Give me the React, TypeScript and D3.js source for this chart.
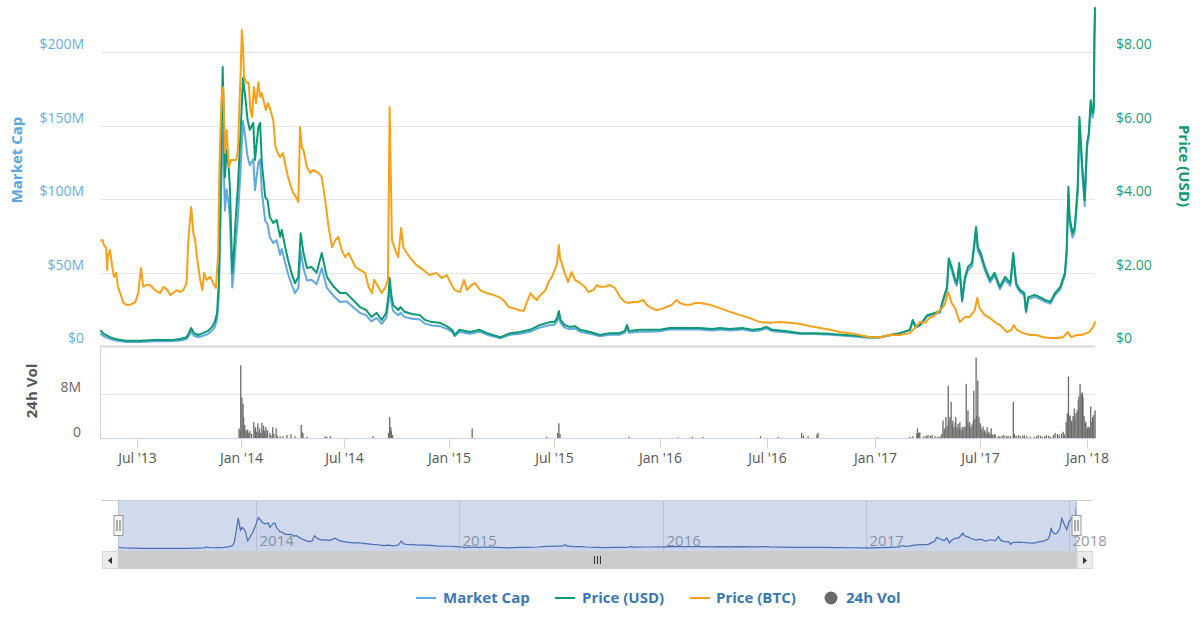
import React from "react";
import * as d3 from "d3";

type Pt = [string, number];

// Price in USD
const priceUsd: Pt[] = [
  ["2013-04-28",0.41],["2013-05-03",0.33],["2013-05-14",0.24],["2013-05-23",0.19],["2013-06-10",0.14],["2013-07-06",0.14],["2013-08-02",0.16],["2013-08-29",0.16],["2013-09-16",0.19],["2013-09-27",0.24],["2013-10-01",0.35],["2013-10-05",0.49],["2013-10-10",0.35],["2013-10-17",0.30],["2013-10-26",0.35],["2013-11-04",0.41],["2013-11-11",0.52],["2013-11-16",0.65],["2013-11-20",0.90],["2013-11-23",1.66],["2013-11-26",3.97],["2013-11-30",7.59],["2013-12-02",6.15],["2013-12-04",4.60],["2013-12-07",5.33],["2013-12-11",4.79],["2013-12-13",4.24],["2013-12-17",1.99],["2013-12-20",2.61],["2013-12-23",3.43],["2013-12-27",4.33],
  ["2014-01-01",5.88],["2014-01-05",7.29],["2014-01-09",6.78],["2014-01-13",6.15],["2014-01-17",5.88],["2014-01-23",6.07],["2014-01-26",5.06],["2014-02-01",5.96],["2014-02-04",6.07],["2014-02-07",4.98],["2014-02-13",4.05],["2014-02-17",3.97],["2014-02-21",3.51],["2014-02-27",3.35],["2014-03-05",3.43],["2014-03-11",2.97],["2014-03-14",3.16],["2014-03-20",2.69],["2014-03-25",2.34],["2014-03-31",1.99],["2014-04-06",1.71],["2014-04-12",1.88],["2014-04-16",3.07],["2014-04-21",2.53],["2014-04-27",2.12],["2014-05-05",2.15],["2014-05-14",1.99],["2014-05-23",2.53],["2014-06-01",1.88],["2014-06-13",1.61],["2014-06-24",1.44],["2014-07-05",1.44],["2014-07-17",1.25],["2014-07-29",1.06],["2014-08-09",0.98],["2014-08-18",0.79],["2014-08-27",0.90],["2014-09-05",0.71],["2014-09-13",0.90],["2014-09-17",1.39],["2014-09-19",1.85],["2014-09-22",1.39],["2014-09-25",1.12],["2014-10-04",0.98],["2014-10-08",1.06],["2014-10-15",0.93],["2014-10-28",0.87],["2014-11-11",0.84],["2014-11-20",0.71],["2014-12-02",0.65],["2014-12-16",0.63],["2014-12-28",0.54],
  ["2015-01-06",0.44],["2015-01-11",0.30],["2015-01-19",0.44],["2015-02-06",0.38],["2015-02-23",0.44],["2015-03-08",0.35],["2015-03-18",0.30],["2015-03-31",0.24],["2015-04-17",0.35],["2015-05-04",0.38],["2015-05-21",0.44],["2015-06-07",0.57],["2015-06-25",0.65],["2015-07-02",0.65],["2015-07-07",0.76],["2015-07-10",0.95],["2015-07-13",0.71],["2015-07-20",0.57],["2015-07-29",0.52],["2015-08-07",0.54],["2015-08-16",0.44],["2015-09-02",0.38],["2015-09-19",0.30],["2015-10-06",0.35],["2015-10-23",0.35],["2015-11-01",0.41],["2015-11-05",0.57],["2015-11-08",0.41],["2015-11-27",0.44],["2015-12-14",0.44],
  ["2016-01-01",0.44],["2016-01-18",0.49],["2016-02-04",0.49],["2016-02-21",0.49],["2016-03-09",0.49],["2016-03-30",0.46],["2016-04-12",0.49],["2016-04-29",0.46],["2016-05-20",0.49],["2016-06-06",0.44],["2016-06-19",0.46],["2016-06-30",0.52],["2016-07-10",0.44],["2016-08-01",0.41],["2016-08-27",0.35],["2016-09-21",0.35],["2016-10-17",0.33],["2016-11-11",0.30],["2016-12-06",0.27],["2016-12-23",0.24],
  ["2017-01-09",0.24],["2017-01-26",0.30],["2017-02-12",0.35],["2017-03-02",0.44],["2017-03-07",0.71],["2017-03-12",0.52],["2017-03-19",0.57],["2017-04-01",0.84],["2017-04-14",0.90],["2017-04-23",0.95],["2017-04-28",1.25],["2017-05-05",1.61],["2017-05-08",2.39],["2017-05-13",2.15],["2017-05-19",1.80],["2017-05-22",1.71],["2017-05-26",2.26],["2017-05-31",1.25],["2017-06-05",1.88],["2017-06-10",2.15],["2017-06-17",2.26],["2017-06-24",3.24],["2017-06-27",2.69],["2017-07-02",2.53],["2017-07-09",2.15],["2017-07-18",1.80],["2017-07-26",1.99],["2017-08-04",1.61],["2017-08-13",1.88],["2017-08-22",1.71],["2017-08-27",2.53],["2017-09-01",1.71],["2017-09-08",1.52],["2017-09-15",1.44],["2017-09-18",0.95],["2017-09-22",1.33],["2017-10-03",1.39],["2017-10-12",1.33],["2017-10-21",1.25],["2017-10-30",1.20],["2017-11-07",1.44],["2017-11-16",1.61],["2017-11-24",1.99],["2017-11-27",2.61],["2017-11-30",4.33],["2017-12-02",3.51],["2017-12-07",3.07],["2017-12-11",3.24],["2017-12-16",4.33],["2017-12-19",6.23],["2017-12-24",4.87],["2017-12-28",3.97],
  ["2018-01-01",5.52],["2018-01-04",5.80],["2018-01-07",6.69],["2018-01-10",6.34],["2018-01-12",6.50],["2018-01-13",8.40],["2018-01-14",9.20]
];

// Market cap in USD millions
const marketCapM: Pt[] = [
  ["2013-04-28",8.2],["2013-05-03",6.6],["2013-05-14",4.8],["2013-05-23",3.8],["2013-06-10",2.8],["2013-07-06",2.8],["2013-08-02",3.2],["2013-08-29",3.2],["2013-09-16",3.8],["2013-09-27",4.8],["2013-10-01",7.0],["2013-10-05",9.8],["2013-10-10",7.0],["2013-10-17",6.0],["2013-10-26",7.0],["2013-11-04",8.2],["2013-11-11",10.4],["2013-11-16",13.0],["2013-11-20",18.0],["2013-11-23",33.2],["2013-11-26",79.4],["2013-11-30",151.8],["2013-12-02",123],["2013-12-04",92],["2013-12-07",106.6],["2013-12-11",95.8],["2013-12-13",84.8],["2013-12-17",39.8],["2013-12-20",52.2],["2013-12-23",68.6],["2013-12-27",86.6],
  ["2014-01-01",121.7],["2014-01-05",153],["2014-01-09",142],["2014-01-13",129],["2014-01-17",123],["2014-01-23",127],["2014-01-26",106],["2014-02-01",125],["2014-02-04",127],["2014-02-07",105],["2014-02-13",85],["2014-02-17",83],["2014-02-21",74],["2014-02-27",70],["2014-03-05",72],["2014-03-11",62],["2014-03-14",66],["2014-03-20",56.5],["2014-03-25",49],["2014-03-31",42],["2014-04-06",36],["2014-04-12",39.5],["2014-04-16",64.5],["2014-04-21",53],["2014-04-27",44.5],["2014-05-05",45],["2014-05-14",42],["2014-05-23",53],["2014-06-01",39.5],["2014-06-13",34],["2014-06-24",30],["2014-07-05",30.5],["2014-07-17",26.5],["2014-07-29",22.5],["2014-08-09",20.8],["2014-08-18",16.8],["2014-08-27",19.1],["2014-09-05",15.1],["2014-09-13",19.2],["2014-09-17",29.6],["2014-09-19",39.4],["2014-09-22",29.6],["2014-09-25",23.9],["2014-10-04",20.9],["2014-10-08",22.6],["2014-10-15",19.8],["2014-10-28",18.6],["2014-11-11",18.0],["2014-11-20",15.2],["2014-12-02",13.9],["2014-12-16",13.5],["2014-12-28",11.6],
  ["2015-01-06",9.7],["2015-01-11",6.6],["2015-01-19",9.7],["2015-02-06",8.4],["2015-02-23",9.7],["2015-03-08",7.7],["2015-03-18",6.6],["2015-03-31",5.3],["2015-04-17",7.7],["2015-05-04",8.4],["2015-05-21",9.7],["2015-06-07",12.5],["2015-06-25",14.3],["2015-07-02",14.3],["2015-07-07",16.7],["2015-07-10",20.9],["2015-07-13",15.6],["2015-07-20",12.5],["2015-07-29",11.4],["2015-08-07",11.9],["2015-08-16",9.7],["2015-09-02",8.4],["2015-09-19",6.6],["2015-10-06",7.7],["2015-10-23",7.7],["2015-11-01",9.0],["2015-11-05",12.5],["2015-11-08",9.0],["2015-11-27",9.7],["2015-12-14",9.7],
  ["2016-01-01",10.1],["2016-01-18",11.3],["2016-02-04",11.3],["2016-02-21",11.3],["2016-03-09",11.3],["2016-03-30",10.6],["2016-04-12",11.3],["2016-04-29",10.6],["2016-05-20",11.3],["2016-06-06",10.1],["2016-06-19",10.6],["2016-06-30",12.0],["2016-07-10",10.1],["2016-08-01",9.4],["2016-08-27",8.1],["2016-09-21",8.1],["2016-10-17",7.6],["2016-11-11",6.9],["2016-12-06",6.2],["2016-12-23",5.5],
  ["2017-01-09",5.8],["2017-01-26",7.2],["2017-02-12",8.4],["2017-03-02",10.6],["2017-03-07",17.0],["2017-03-12",12.5],["2017-03-19",13.7],["2017-04-01",20.2],["2017-04-14",21.6],["2017-04-23",22.8],["2017-04-28",30.0],["2017-05-05",38.6],["2017-05-08",57.4],["2017-05-13",51.6],["2017-05-19",43.2],["2017-05-22",41.0],["2017-05-26",54.2],["2017-05-31",30.0],["2017-06-05",45.1],["2017-06-10",51.6],["2017-06-17",54.2],["2017-06-24",77.8],["2017-06-27",64.6],["2017-07-02",60.7],["2017-07-09",51.6],["2017-07-18",43.2],["2017-07-26",47.8],["2017-08-04",38.6],["2017-08-13",45.1],["2017-08-22",41.0],["2017-08-27",60.7],["2017-09-01",41.0],["2017-09-08",36.5],["2017-09-15",34.6],["2017-09-18",22.8],["2017-09-22",31.9],["2017-10-03",33.4],["2017-10-12",31.9],["2017-10-21",30.0],["2017-10-30",28.8],["2017-11-07",34.6],["2017-11-16",38.6],["2017-11-24",47.8],["2017-11-27",62.6],["2017-11-30",103.9],["2017-12-02",84.2],["2017-12-07",73.7],["2017-12-11",77.8],["2017-12-16",103.9],["2017-12-19",149.5],["2017-12-24",116.9],["2017-12-28",95.3],
  ["2018-01-01",135.2],["2018-01-04",142.1],["2018-01-07",163.9],["2018-01-10",155.3],["2018-01-12",159.2],["2018-01-13",205.8],["2018-01-14",225.4]
];

// Price in BTC
const priceBtc: Pt[] = [
  ["2013-04-28",0.00288],["2013-05-01",0.00288],["2013-05-03",0.00275],["2013-05-07",0.00267],["2013-05-09",0.00207],["2013-05-10",0.00242],["2013-05-14",0.00261],["2013-05-18",0.00215],["2013-05-21",0.00188],["2013-05-25",0.00199],["2013-05-28",0.00161],["2013-06-01",0.00144],["2013-06-07",0.00117],["2013-06-12",0.00112],["2013-06-19",0.00112],["2013-06-28",0.00120],["2013-07-03",0.00144],["2013-07-08",0.00212],["2013-07-12",0.00161],["2013-07-17",0.00166],["2013-07-24",0.00166],["2013-08-02",0.00152],["2013-08-11",0.00144],["2013-08-17",0.00161],["2013-08-24",0.00152],["2013-08-29",0.00139],["2013-09-03",0.00144],["2013-09-09",0.00152],["2013-09-16",0.00147],["2013-09-21",0.00152],["2013-09-27",0.00171],["2013-09-30",0.00288],["2013-10-05",0.00378],["2013-10-09",0.00307],["2013-10-12",0.00288],["2013-10-16",0.00234],["2013-10-21",0.00180],["2013-10-25",0.00152],["2013-10-28",0.00199],["2013-11-01",0.00180],["2013-11-08",0.00188],["2013-11-13",0.00171],["2013-11-18",0.00158],["2013-11-22",0.00253],["2013-11-23",0.00378],["2013-11-25",0.00533],["2013-11-28",0.00678],["2013-12-01",0.00705],["2013-12-04",0.00525],["2013-12-07",0.00588],["2013-12-11",0.00487],["2013-12-15",0.00506],["2013-12-24",0.00506],["2013-12-27",0.00533],
  ["2014-01-01",0.00751],["2014-01-03",0.00860],["2014-01-05",0.00814],["2014-01-07",0.00732],["2014-01-11",0.00716],["2014-01-15",0.00716],["2014-01-18",0.00642],["2014-01-21",0.00623],["2014-01-24",0.00705],["2014-01-28",0.00661],["2014-02-01",0.00718],["2014-02-04",0.00678],["2014-02-07",0.00688],["2014-02-10",0.00669],["2014-02-14",0.00642],["2014-02-18",0.00661],["2014-02-22",0.00642],["2014-02-27",0.00615],["2014-03-03",0.00541],["2014-03-07",0.00525],["2014-03-11",0.00514],["2014-03-16",0.00525],["2014-03-21",0.00487],["2014-03-25",0.00460],["2014-03-30",0.00433],["2014-04-03",0.00416],["2014-04-08",0.00405],["2014-04-12",0.00392],["2014-04-15",0.00596],["2014-04-18",0.00541],["2014-04-21",0.00533],["2014-04-27",0.00487],["2014-05-03",0.00471],["2014-05-08",0.00479],["2014-05-17",0.00471],["2014-05-23",0.00460],["2014-05-29",0.00397],["2014-06-04",0.00324],["2014-06-10",0.00269],["2014-06-16",0.00288],["2014-06-21",0.00297],["2014-06-27",0.00261],["2014-07-03",0.00242],["2014-07-09",0.00253],["2014-07-15",0.00234],["2014-07-21",0.00215],["2014-07-29",0.00207],["2014-08-07",0.00199],["2014-08-13",0.00161],["2014-08-19",0.00144],["2014-08-23",0.00180],["2014-08-30",0.00161],["2014-09-05",0.00144],["2014-09-12",0.00161],["2014-09-16",0.00180],["2014-09-19",0.00650],["2014-09-23",0.00288],["2014-09-29",0.00261],["2014-10-04",0.00242],["2014-10-09",0.00321],["2014-10-13",0.00269],["2014-10-19",0.00253],["2014-10-28",0.00234],["2014-11-05",0.00220],["2014-11-17",0.00207],["2014-11-28",0.00193],["2014-12-10",0.00199],["2014-12-19",0.00185],["2014-12-28",0.00193],
  ["2015-01-03",0.00174],["2015-01-11",0.00152],["2015-01-20",0.00147],["2015-01-27",0.00180],["2015-02-01",0.00152],["2015-02-09",0.00166],["2015-02-15",0.00171],["2015-02-24",0.00152],["2015-03-07",0.00144],["2015-03-19",0.00139],["2015-03-31",0.00131],["2015-04-08",0.00120],["2015-04-14",0.00106],["2015-04-23",0.00103],["2015-05-01",0.00098],["2015-05-10",0.00095],["2015-05-16",0.00120],["2015-05-22",0.00144],["2015-05-27",0.00133],["2015-06-02",0.00125],["2015-06-08",0.00139],["2015-06-17",0.00152],["2015-06-22",0.00174],["2015-06-28",0.00188],["2015-07-03",0.00207],["2015-07-07",0.00226],["2015-07-10",0.00275],["2015-07-12",0.00239],["2015-07-15",0.00226],["2015-07-20",0.00199],["2015-07-26",0.00174],["2015-08-01",0.00201],["2015-08-07",0.00180],["2015-08-16",0.00171],["2015-08-24",0.00161],["2015-08-30",0.00147],["2015-09-08",0.00152],["2015-09-14",0.00166],["2015-09-19",0.00161],["2015-09-28",0.00161],["2015-10-06",0.00166],["2015-10-15",0.00158],["2015-10-24",0.00133],["2015-11-01",0.00120],["2015-11-07",0.00117],["2015-11-16",0.00120],["2015-11-24",0.00120],["2015-12-03",0.00125],["2015-12-09",0.00112],["2015-12-17",0.00103],["2015-12-26",0.00098],
  ["2016-01-04",0.00101],["2016-01-12",0.00106],["2016-01-21",0.00112],["2016-01-29",0.00125],["2016-02-04",0.00117],["2016-02-13",0.00112],["2016-02-21",0.00112],["2016-03-01",0.00117],["2016-03-09",0.00117],["2016-03-26",0.00112],["2016-04-12",0.00103],["2016-04-29",0.00093],["2016-05-16",0.00084],["2016-06-02",0.00076],["2016-06-19",0.00065],["2016-07-06",0.00063],["2016-07-23",0.00065],["2016-08-09",0.00063],["2016-08-27",0.00060],["2016-09-13",0.00054],["2016-09-30",0.00049],["2016-10-17",0.00044],["2016-11-02",0.00038],["2016-11-19",0.00035],["2016-12-06",0.00030],["2016-12-23",0.00024],
  ["2017-01-09",0.00024],["2017-01-26",0.00030],["2017-02-12",0.00030],["2017-03-02",0.00035],["2017-03-11",0.00049],["2017-03-19",0.00065],["2017-03-28",0.00063],["2017-04-05",0.00076],["2017-04-14",0.00084],["2017-04-23",0.00098],["2017-05-01",0.00112],["2017-05-07",0.00147],["2017-05-13",0.00117],["2017-05-19",0.00103],["2017-05-27",0.00065],["2017-06-05",0.00079],["2017-06-13",0.00079],["2017-06-22",0.00098],["2017-06-26",0.00131],["2017-06-30",0.00103],["2017-07-09",0.00084],["2017-07-18",0.00076],["2017-07-26",0.00065],["2017-08-04",0.00057],["2017-08-16",0.00038],["2017-08-24",0.00044],["2017-08-28",0.00057],["2017-09-02",0.00044],["2017-09-13",0.00035],["2017-09-25",0.00030],["2017-10-06",0.00030],["2017-10-18",0.00024],["2017-10-29",0.00022],["2017-11-09",0.00022],["2017-11-21",0.00024],["2017-11-29",0.00038],["2017-12-05",0.00024],["2017-12-14",0.00030],["2017-12-23",0.00030],["2017-12-31",0.00035],
  ["2018-01-05",0.00038],["2018-01-11",0.00052],["2018-01-14",0.00065]
];

// 24h volume in USD millions
const volumeM: Pt[] = [
  ["2013-12-29",1.8],["2013-12-31",1.5],["2014-01-01",13.0],["2014-01-03",7.3],["2014-01-05",6.2],["2014-01-06",3.8],["2014-01-08",2.4],["2014-01-10",1.5],["2014-01-12",1.2],["2014-01-13",1.6],["2014-01-15",1.0],["2014-01-17",1.3],["2014-01-20",0.8],["2014-01-24",2.9],["2014-01-26",1.5],["2014-01-27",2.0],["2014-01-29",1.2],["2014-01-31",2.7],["2014-02-02",1.2],["2014-02-03",1.8],["2014-02-05",1.0],["2014-02-07",2.8],["2014-02-09",1.5],["2014-02-10",2.3],["2014-02-12",1.4],["2014-02-14",2.0],["2014-02-16",1.0],["2014-02-17",1.5],["2014-02-21",1.0],["2014-02-23",0.6],["2014-02-26",2.0],["2014-02-28",0.8],["2014-03-04",1.8],["2014-03-06",0.5],["2014-03-11",0.4],["2014-03-16",0.4],["2014-03-23",0.6],["2014-03-30",0.75],["2014-04-06",0.4],["2014-04-17",2.4],["2014-04-18",1.2],["2014-04-20",1.0],["2014-04-27",0.3],["2014-05-29",0.4],["2014-06-01",0.3],["2014-06-07",0.4],["2014-08-21",0.4],["2014-09-17",1.0],["2014-09-19",3.8],["2014-09-21",2.0],["2014-09-22",1.35],["2014-09-24",0.6],
  ["2015-02-10",1.8],["2015-06-19",0.3],["2015-07-08",1.0],["2015-07-10",2.7],["2015-07-12",0.8],["2015-11-08",0.3],
  ["2016-02-01",0.2],["2016-02-25",0.3],["2016-03-14",0.3],["2016-06-20",0.4],["2016-07-20",0.3],["2016-08-29",1.0],["2016-09-01",0.5],["2016-09-09",0.4],["2016-09-24",0.7],["2016-09-26",1.0],
  ["2017-01-06",0.2],["2017-03-02",0.3],["2017-03-07",0.4],["2017-03-14",0.9],["2017-03-15",1.8],["2017-03-17",1.0],["2017-03-19",1.1],["2017-03-26",0.4],["2017-03-30",0.5],["2017-04-02",0.6],["2017-04-06",0.5],["2017-04-09",0.6],["2017-04-14",0.4],["2017-04-19",0.3],["2017-04-23",0.4],["2017-04-26",0.8],["2017-04-28",3.2],["2017-04-30",1.5],["2017-05-01",1.8],["2017-05-03",3.8],["2017-05-05",2.2],["2017-05-07",9.4],["2017-05-08",3.0],["2017-05-10",3.8],["2017-05-12",6.5],["2017-05-14",2.5],["2017-05-15",3.2],["2017-05-17",2.0],["2017-05-19",2.8],["2017-05-20",3.8],["2017-05-22",2.0],["2017-05-24",2.6],["2017-05-26",1.8],["2017-05-27",2.9],["2017-05-29",1.6],["2017-05-31",2.1],["2017-06-01",1.4],["2017-06-03",2.0],["2017-06-05",2.1],["2017-06-07",9.7],["2017-06-08",3.0],["2017-06-10",5.0],["2017-06-12",2.4],["2017-06-13",2.9],["2017-06-15",2.0],["2017-06-17",2.5],["2017-06-19",3.2],["2017-06-20",8.5],["2017-06-22",3.5],["2017-06-24",14.4],["2017-06-25",4.0],["2017-06-27",10.3],["2017-06-29",3.8],["2017-07-01",2.7],["2017-07-02",2.3],["2017-07-04",1.6],["2017-07-06",2.1],["2017-07-08",1.2],["2017-07-09",1.5],["2017-07-11",1.0],["2017-07-13",2.0],["2017-07-15",0.8],["2017-07-16",1.2],["2017-07-18",0.8],["2017-07-20",1.8],["2017-07-22",0.6],["2017-07-25",0.8],["2017-07-27",0.7],["2017-08-01",0.4],["2017-08-04",0.4],["2017-08-08",0.5],["2017-08-11",0.6],["2017-08-15",0.4],["2017-08-18",0.5],["2017-08-22",0.4],["2017-08-27",6.5],["2017-08-29",0.8],["2017-09-01",0.5],["2017-09-05",0.6],["2017-09-08",0.4],["2017-09-12",0.5],["2017-09-15",0.6],["2017-09-19",0.4],["2017-09-25",0.3],["2017-10-02",0.3],["2017-10-06",0.4],["2017-10-09",0.6],["2017-10-13",0.5],["2017-10-16",0.3],["2017-10-20",0.4],["2017-10-23",0.6],["2017-10-27",0.5],["2017-10-30",0.3],["2017-11-04",0.6],["2017-11-07",1.0],["2017-11-11",0.8],["2017-11-14",0.6],["2017-11-18",0.9],["2017-11-21",1.2],["2017-11-23",0.7],["2017-11-26",2.9],["2017-11-28",4.5],["2017-11-30",11.0],["2017-12-01",4.0],["2017-12-03",4.1],["2017-12-05",3.0],["2017-12-06",3.2],["2017-12-08",4.0],["2017-12-10",5.3],["2017-12-11",3.5],["2017-12-13",4.5],["2017-12-15",5.0],["2017-12-17",6.8],["2017-12-18",7.5],["2017-12-20",9.7],["2017-12-22",8.0],["2017-12-24",8.2],["2017-12-25",7.4],["2017-12-27",4.0],["2017-12-29",2.7],["2017-12-30",3.0],
  ["2018-01-01",1.6],["2018-01-02",2.0],["2018-01-04",2.1],["2018-01-05",1.8],["2018-01-07",5.7],["2018-01-09",3.0],["2018-01-10",3.8],["2018-01-12",4.2],["2018-01-14",5.0]
];

const mcTicks = [0, 50, 100, 150, 200];
const mcTickLabels = ["$0", "$50M", "$100M", "$150M", "$200M"];
const usdTicks = [0, 2, 4, 6, 8];
const usdTickLabels = ["$0", "$2.00", "$4.00", "$6.00", "$8.00"];
const volTicks = [0, 8];
const volTickLabels = ["0", "8M"];
const xTickDates = ["2013-07-01","2014-01-01","2014-07-01","2015-01-01","2015-07-01","2016-01-01","2016-07-01","2017-01-01","2017-07-01","2018-01-01"];
const xTickLabels = ["Jul '13","Jan '14","Jul '14","Jan '15","Jul '15","Jan '16","Jul '16","Jan '17","Jul '17","Jan '18"];
const navYearDates = ["2014-01-01","2015-01-01","2016-01-01","2017-01-01","2018-01-01"];
const navYearLabels = ["2014","2015","2016","2017","2018"];
const seriesNames = ["Market Cap", "Price (USD)", "Price (BTC)", "24h Vol"];

const FONT = "'Open Sans', 'DejaVu Sans', sans-serif";
const C_MC = "#62a9e0";
const C_USD = "#0b9a74";
const C_BTC = "#f7a11a";
const C_VOL = "#6b6b6b";
const C_GRID = "#e6e6e6";
const C_AXIS = "#ccd6eb";

const parse = d3.utcParse("%Y-%m-%d");
const pd = (s: string) => parse(s) as Date;

export default function App() {
  const anchors = ["2013-04-28","2014-01-01","2015-01-01","2016-01-01","2017-01-01","2018-01-01","2018-01-14"].map(pd);
  const x = d3.scaleUtc().domain(anchors).range([101, 240.7, 449, 660, 875, 1087, 1095]);
  const xNav = d3.scaleUtc().domain(anchors).range([118, 256, 459, 663, 866, 1069, 1077]);
  const yMC = d3.scaleLinear().domain([0, 200]).range([346, 52]);
  const yUSD = d3.scaleLinear().domain([0, 8]).range([346, 52]);
  const yBTC = d3.scaleLinear().domain([0, 0.008]).range([346, 52]);
  const yVol = d3.scaleLinear().domain([0, 8]).range([438.5, 393.5]);
  const yNav = d3.scaleLinear().domain([0, 225]).range([549, 503]);

  const mk = (ys: d3.ScaleLinear<number, number>) =>
    d3.line<Pt>().x(d => x(pd(d[0]))).y(d => ys(d[1]));
  const navLine = d3.line<Pt>().x(d => xNav(pd(d[0]))).y(d => yNav(d[1]));
  const navArea = d3.area<Pt>().x(d => xNav(pd(d[0]))).y0(551).y1(d => yNav(d[1]));

  const legendItems = [
    { name: seriesNames[0], color: C_MC, kind: "line", sx: 416, tx: 443 },
    { name: seriesNames[1], color: C_USD, kind: "line", sx: 555, tx: 582 },
    { name: seriesNames[2], color: C_BTC, kind: "line", sx: 690, tx: 716 },
    { name: seriesNames[3], color: C_VOL, kind: "dot", sx: 825, tx: 846 },
  ];

  return (
    <svg width={1200} height={618} fontFamily={FONT}
      style={{ position: "absolute", left: 0, top: 0, background: "#fff" }}>
      <defs>
        <clipPath id="mainClip"><rect x={100} y={0} width={996} height={347} /></clipPath>
        <clipPath id="navClip"><rect x={118} y={500} width={959} height={51} /></clipPath>
      </defs>

      {/* main pane gridlines */}
      {mcTicks.map(t => (
        <line key={"g" + t} x1={100} x2={1095} y1={Math.round(yMC(t)) + 0.5} y2={Math.round(yMC(t)) + 0.5}
          stroke={t === 0 ? "#d8d8d8" : C_GRID} strokeWidth={t === 0 ? 2 : 1} />
      ))}
      {/* left labels */}
      {mcTicks.map((t, i) => (
        <text key={"l" + t} x={84} y={yMC(t) - 3} textAnchor="end" fontSize={14} fill="#6aaee2">{mcTickLabels[i]}</text>
      ))}
      {/* right labels */}
      {usdTicks.map((t, i) => (
        <text key={"r" + t} x={1116} y={yUSD(t) - 3} textAnchor="start" fontSize={14} fill="#1c9c78">{usdTickLabels[i]}</text>
      ))}
      <text transform="translate(22,160) rotate(-90)" textAnchor="middle" fontSize={15} fontWeight="bold" fill="#5aa6e0">Market Cap</text>
      <text transform="translate(1179,166) rotate(90)" textAnchor="middle" fontSize={15} fontWeight="bold" fill="#0f9a74">Price (USD)</text>

      {/* series */}
      <g clipPath="url(#mainClip)" fill="none" strokeLinejoin="round" strokeLinecap="round">
        <path d={mk(yMC)(marketCapM) || ""} stroke={C_MC} strokeWidth={2} />
        <path d={mk(yUSD)(priceUsd) || ""} stroke={C_USD} strokeWidth={2} />
        <path d={mk(yBTC)(priceBtc) || ""} stroke={C_BTC} strokeWidth={2} />
      </g>

      {/* volume pane */}
      {volTicks.filter(t => t > 0).map(t => (
        <line key={"vg" + t} x1={100} x2={1095} y1={Math.round(yVol(t)) + 0.5} y2={Math.round(yVol(t)) + 0.5} stroke={C_GRID} />
      ))}
      {volTicks.map((t, i) => (
        <text key={"vl" + t} x={81} y={yVol(t) - 2} textAnchor="end" fontSize={14} fill="#666">{volTickLabels[i]}</text>
      ))}
      <text transform="translate(37,391) rotate(-90)" textAnchor="middle" fontSize={15} fontWeight="bold" fill="#555">24h Vol</text>
      <g fill={C_VOL}>
        {volumeM.map(d => (
          <rect key={d[0]} x={x(pd(d[0])) - 0.6} width={1.3} y={yVol(d[1])} height={yVol(0) - yVol(d[1])} />
        ))}
      </g>
      <line x1={100.5} x2={100.5} y1={348} y2={438.5} stroke={C_AXIS} />
      <line x1={100} x2={1095} y1={438.5} y2={438.5} stroke={C_AXIS} />
      {xTickDates.map((s, i) => {
        const xx = Math.round(x(pd(s))) + 0.5;
        return (
          <g key={s}>
            <line x1={xx} x2={xx} y1={438.5} y2={448.5} stroke={C_AXIS} />
            <text x={xx} y={463} textAnchor="middle" fontSize={14} fill="#555">{xTickLabels[i]}</text>
          </g>
        );
      })}

      {/* navigator */}
      <line x1={102} x2={1093} y1={500.5} y2={500.5} stroke="#cccccc" />
      {navYearDates.map((s, i) => {
        const xx = Math.round(xNav(pd(s))) + 0.5;
        return (
          <g key={s}>
            <line x1={xx} x2={xx} y1={500.5} y2={551} stroke="#e0e0e0" />
            <text x={xx + 3} y={546} fontSize={15} fill="#999">{navYearLabels[i]}</text>
          </g>
        );
      })}
      <g clipPath="url(#navClip)">
        <path d={navArea(marketCapM) || ""} fill="rgba(51,92,173,0.05)" />
        <path d={navLine(marketCapM) || ""} fill="none" stroke="#3d63b0" strokeWidth={1.2} />
      </g>
      <rect x={118} y={501} width={959} height={50} fill="rgba(102,133,194,0.3)" />
      <line x1={118.5} x2={118.5} y1={501} y2={551} stroke="#b8c4dc" />
      <line x1={1076.5} x2={1076.5} y1={501} y2={551} stroke="#b8c4dc" />
      {/* handles */}
      {[118.5, 1076.5].map(hx => (
        <g key={hx}>
          <rect x={hx - 4.5} y={515.5} width={9} height={20} fill="#f4f4f4" stroke="#999" />
          <line x1={hx - 1.5} x2={hx - 1.5} y1={520} y2={531} stroke="#666" />
          <line x1={hx + 1.5} x2={hx + 1.5} y1={520} y2={531} stroke="#666" />
        </g>
      ))}
      {/* scrollbar */}
      <rect x={102} y={551} width={991} height={18} fill="#f2f2f2" />
      <rect x={118} y={551} width={959} height={18} fill="#cccccc" />
      <rect x={102.5} y={551.5} width={15.5} height={17} fill="#ebebeb" stroke="#d6d6d6" />
      <rect x={1077} y={551.5} width={15.5} height={17} fill="#ebebeb" stroke="#d6d6d6" />
      <path d="M112,557 L108,560.5 L112,564 Z" fill="#333" />
      <path d="M1083,557 L1087,560.5 L1083,564 Z" fill="#333" />
      {[594.5, 597.5, 600.5].map(gx => (
        <line key={gx} x1={gx} x2={gx} y1={556} y2={564} stroke="#333" />
      ))}

      {/* legend */}
      {legendItems.map(it => (
        <g key={it.name}>
          {it.kind === "line"
            ? <line x1={it.sx} x2={it.sx + 20} y1={598} y2={598} stroke={it.color} strokeWidth={2} />
            : <circle cx={it.sx + 6} cy={598} r={6.5} fill={it.color} />}
          <text x={it.tx} y={603} fontSize={15} fontWeight="bold" fill="#3a78b4">{it.name}</text>
        </g>
      ))}
    </svg>
  );
}
